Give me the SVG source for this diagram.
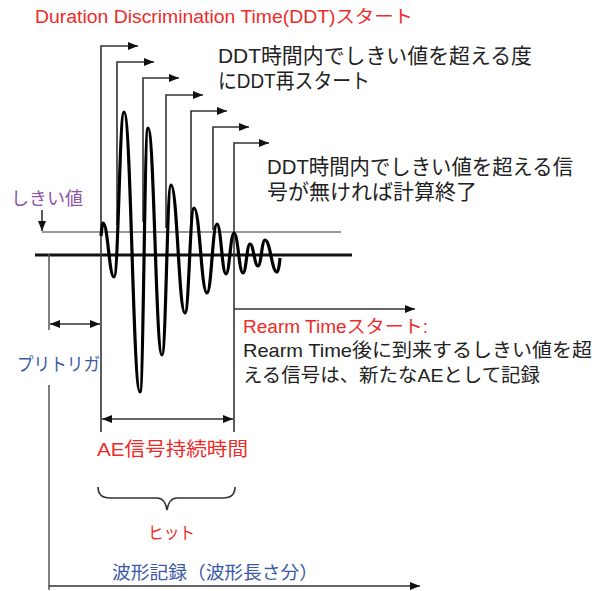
<svg xmlns="http://www.w3.org/2000/svg" width="596" height="591" viewBox="0 0 596 591">
<style>
text{font-family:"Liberation Sans","Noto Sans CJK JP",sans-serif;}
.red{fill:#ee2a2a;}
.blue{fill:#3a59a8;}
.purple{fill:#8c52a8;}
.blk{fill:#222;}
.ln{stroke:#555;stroke-width:1.5;fill:none;}
.ar{stroke:#333;stroke-width:1.6;fill:none;marker-end:url(#ah);}
.dar{stroke:#333;stroke-width:1.6;fill:none;marker-end:url(#ah);marker-start:url(#ah);}
</style>
<defs>
<marker id="ah" markerUnits="userSpaceOnUse" markerWidth="10" markerHeight="8" refX="10" refY="4" orient="auto-start-reverse">
<path d="M0,0 L10,4 L0,8 z" fill="#111"/>
</marker>
</defs>
<rect width="596" height="591" fill="#fff"/>

<g id="axes">
<line x1="42" y1="232" x2="341" y2="232" stroke="#999" stroke-width="1.8"/>
<line x1="35" y1="255" x2="352" y2="255" stroke="#111" stroke-width="3"/>
</g>

<g id="connectors">
<!-- DDT arrows -->
<path class="ar" d="M101,432 V46 H138"/>
<path class="ar" d="M117,225 V62 H154"/>
<path class="ar" d="M143,222 V78 H179"/>
<path class="ar" d="M166,228 V95 H203"/>
<path class="ar" d="M191,230 V111 H227"/>
<path class="ar" d="M213,230 V127 H249"/>
<path class="ar" d="M234,432 V143 H269"/>
<!-- threshold pointer -->
<line class="ar" x1="42" y1="210" x2="42" y2="231"/>
<!-- pre-trigger -->
<line class="ln" x1="49" y1="254" x2="49" y2="330"/>
<line class="ln" x1="49" y1="385" x2="49" y2="590"/>
<line class="dar" x1="50" y1="324" x2="100" y2="324"/>
<!-- rearm -->
<line class="ar" x1="234" y1="309" x2="415" y2="309"/>
<!-- AE duration -->
<line class="dar" x1="102" y1="419" x2="233" y2="419"/>
<!-- hit brace -->
<path d="M98,487 Q98,498 110,498 L157,498 Q165,498 167,510 Q169,498 177,498 L223,498 Q235,498 235,487" fill="none" stroke="#333" stroke-width="1.6"/>
<!-- waveform record -->
<line class="ar" x1="49" y1="586" x2="420" y2="586"/>
</g>

<g id="waveform">
<path fill="none" stroke="#000" stroke-width="3.2" stroke-linejoin="round" d="M101,236 C102,226 102.5,223 103,223 C108,223 109,277 114,277 C118.5,277 119.5,112 124,112 C131.2,112 132.8,392 140,392 C143.6,392 144.4,128 148,128 C154.3,128 155.7,355 162,355 C166,355 167,185 171,185 C177.3,185 178.7,313 185,313 C189,313 190,208 194,208 C199.9,208 201.1,293 207,293 C211.5,293 212.5,224 217,224 C221,224 222,274 226,274 C229.6,274 230.4,233 234,233 C238,233 239,273 243,273 C246.2,273 246.8,244 250,244 C253.6,244 254.4,266 258,266 C261.2,266 261.8,240 265,240 C270.4,240 271.6,272 277,272 C278.5,272 279.5,264 280,258"/>
</g>

<g id="title">
<text class="red" x="35" y="23" font-size="18" textLength="378" lengthAdjust="spacingAndGlyphs">Duration Discrimination Time(DDT)スタート</text>
</g>
<g id="ddt-restart">
<text class="blk" x="218" y="63" font-size="21" textLength="314" lengthAdjust="spacingAndGlyphs">DDT時間内でしきい値を超える度</text>
<text class="blk" x="218" y="88" font-size="21" textLength="152" lengthAdjust="spacingAndGlyphs">にDDT再スタート</text>
</g>
<g id="ddt-end">
<text class="blk" x="267" y="174" font-size="21" textLength="306" lengthAdjust="spacingAndGlyphs">DDT時間内でしきい値を超える信</text>
<text class="blk" x="267" y="199" font-size="21" textLength="210" lengthAdjust="spacingAndGlyphs">号が無ければ計算終了</text>
</g>
<g id="threshold">
<text class="purple" x="11" y="205" font-size="18" textLength="72" lengthAdjust="spacingAndGlyphs">しきい値</text>
</g>
<g id="pretrigger">
<text class="blue" x="17" y="371" font-size="18" textLength="83" lengthAdjust="spacingAndGlyphs">プリトリガ</text>
</g>
<g id="rearm">
<text class="red" x="243" y="333" font-size="18" textLength="185" lengthAdjust="spacingAndGlyphs">Rearm Timeスタート:</text>
<text class="blk" x="243" y="357" font-size="19" textLength="349" lengthAdjust="spacingAndGlyphs">Rearm Time後に到来するしきい値を超</text>
<text class="blk" x="243" y="382" font-size="19" textLength="297" lengthAdjust="spacingAndGlyphs">える信号は、新たなAEとして記録</text>
</g>
<g id="ae-duration">
<text class="red" x="97" y="456" font-size="19" textLength="151" lengthAdjust="spacingAndGlyphs">AE信号持続時間</text>
</g>
<g id="hit">
<text class="red" x="148" y="539" font-size="17" textLength="47" lengthAdjust="spacingAndGlyphs">ヒット</text>
</g>
<g id="record">
<text class="blue" x="112" y="579" font-size="18" textLength="206" lengthAdjust="spacingAndGlyphs">波形記録（波形長さ分）</text>
</g>
</svg>
